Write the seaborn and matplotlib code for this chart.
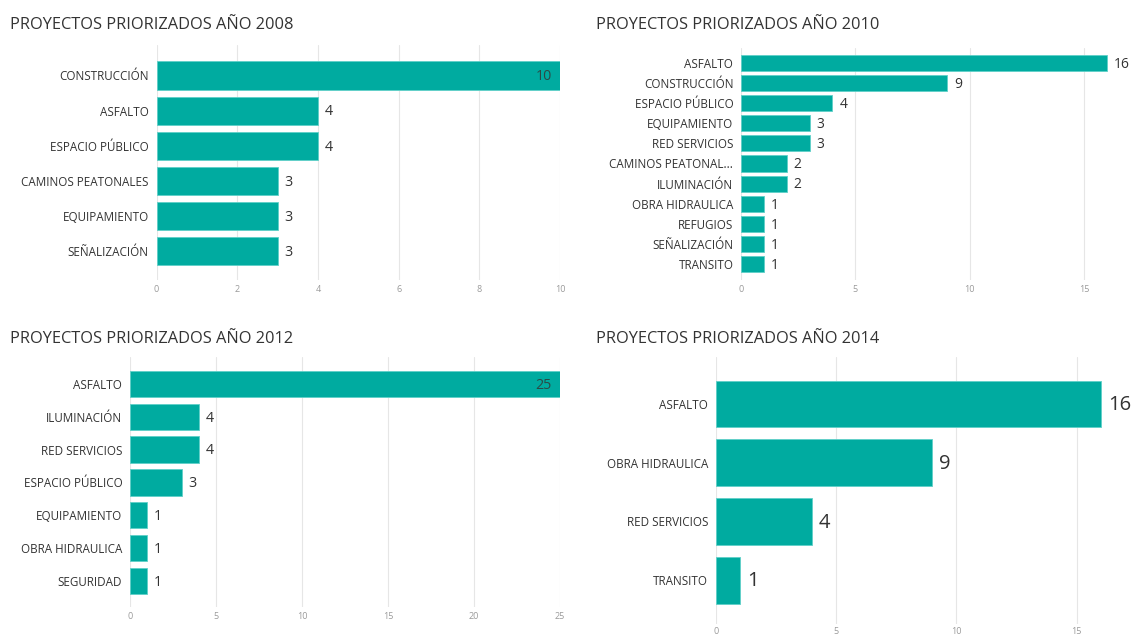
import matplotlib
matplotlib.use("Agg")
import matplotlib.pyplot as plt
import seaborn as sns
import pandas as pd

# datos de cada año
cats_2008 = ["CONSTRUCCIÓN", "ASFALTO", "ESPACIO PÚBLICO", "CAMINOS PEATONALES",
             "EQUIPAMIENTO", "SEÑALIZACIÓN"]
vals_2008 = [10, 4, 4, 3, 3, 3]
ticks_2008 = [0, 2, 4, 6, 8, 10]

cats_2010 = ["ASFALTO", "CONSTRUCCIÓN", "ESPACIO PÚBLICO", "EQUIPAMIENTO", "RED SERVICIOS",
             "CAMINOS PEATONAL...", "ILUMINACIÓN", "OBRA HIDRAULICA", "REFUGIOS",
             "SEÑALIZACIÓN", "TRANSITO"]
vals_2010 = [16, 9, 4, 3, 3, 2, 2, 1, 1, 1, 1]
ticks_2010 = [0, 5, 10, 15]

cats_2012 = ["ASFALTO", "ILUMINACIÓN", "RED SERVICIOS", "ESPACIO PÚBLICO", "EQUIPAMIENTO",
             "OBRA HIDRAULICA", "SEGURIDAD"]
vals_2012 = [25, 4, 4, 3, 1, 1, 1]
ticks_2012 = [0, 5, 10, 15, 20, 25]

cats_2014 = ["ASFALTO", "OBRA HIDRAULICA", "RED SERVICIOS", "TRANSITO"]
vals_2014 = [16, 9, 4, 1]
ticks_2014 = [0, 5, 10, 15]

titles = ["PROYECTOS PRIORIZADOS AÑO 2008", "PROYECTOS PRIORIZADOS AÑO 2010",
          "PROYECTOS PRIORIZADOS AÑO 2012", "PROYECTOS PRIORIZADOS AÑO 2014"]

sns.set_theme(style="white")
plt.rcParams["font.family"] = ["Open Sans", "DejaVu Sans"]

W, H = 1132, 639
BAR = "#00ABA0"
fig = plt.figure(figsize=(W / 100, H / 100), dpi=100)
fig.patch.set_facecolor("white")

# layout in pixels: x0, px per unit, xmax, top, bottom, first center, step,
# title x, title y, label size, value size, tick pad
panels = [
    (cats_2008, vals_2008, ticks_2008, 156.5, 40.35, 10, 45, 280, 75.5, 35.1, 10, 25, 8.4, 10.3, 3.5),
    (cats_2010, vals_2010, ticks_2010, 741, 22.87, 16.3, 48, 280, 63, 20.1, 596, 25, 8.4, 10, 3.5),
    (cats_2012, vals_2012, ticks_2012, 130, 17.2, 25, 357, 607, 384, 32.8, 10, 339, 8.4, 10.3, 3.5),
    (cats_2014, vals_2014, ticks_2014, 715.7, 24.07, 16.5, 357, 624, 404, 58.7, 596, 339, 8.4, 14.5, 2),
]

for title, (cats, vals, ticks, x0, ppu, xmax, top, bottom, c0, step, tx, ty, lsz, vsz, tpad) in zip(titles, panels):
    ax = fig.add_axes([x0 / W, 1 - bottom / H, xmax * ppu / W, (bottom - top) / H])
    df = pd.DataFrame({"cat": cats, "val": vals})
    sns.barplot(data=df, x="val", y="cat", ax=ax, color=BAR, saturation=1,
                width=0.8, edgecolor="#5fd0c8", linewidth=0.6, zorder=2)
    ax.set_xlim(0, xmax)
    ax.set_ylim((bottom - c0) / step, -(c0 - top) / step)
    ax.set_xticks(ticks)
    ax.set_xlabel("")
    ax.set_ylabel("")
    for s in ax.spines.values():
        s.set_visible(False)
    ax.grid(axis="x", color="#e6e6e6", linewidth=0.8, zorder=0)
    ax.grid(axis="y", visible=False)
    ax.set_axisbelow(True)
    ax.tick_params(axis="x", length=0, pad=tpad, labelsize=6.5, labelcolor="#9a9a9a")
    ax.tick_params(axis="y", length=0, pad=5.5, labelsize=lsz, labelcolor="#333333")
    ax.set_facecolor("white")
    for i, v in enumerate(vals):
        if v >= xmax:
            ax.annotate(str(v), (v, i), xytext=(-6, -1), textcoords="offset points",
                        ha="right", va="center", fontsize=vsz, color="#2b4a47")
        else:
            ax.annotate(str(v), (v, i), xytext=(5, -1), textcoords="offset points",
                        ha="left", va="center", fontsize=vsz, color="#333333",
                        annotation_clip=False)
    fig.text(tx / W, 1 - ty / H, title, fontsize=11.8, color="#333333", va="center", ha="left")

fig.savefig("out.png", dpi=100, facecolor="white")
